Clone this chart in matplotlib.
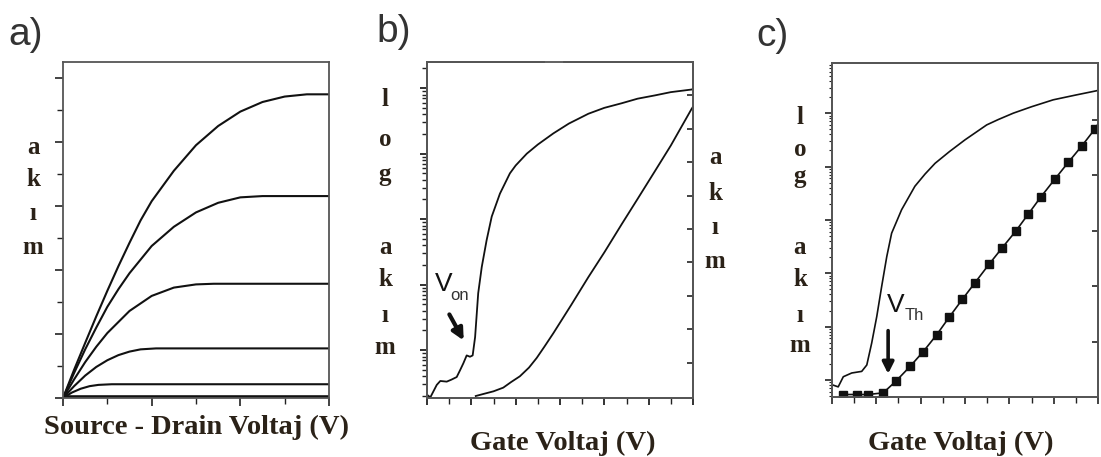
import numpy as np
import matplotlib.pyplot as plt
from matplotlib.ticker import MultipleLocator, FixedLocator, NullFormatter

# ---- a) output curves: drain current vs source-drain voltage (one list per gate voltage)
a_x1 = [0, 0.25, 0.5, 0.75, 1.0, 1.25, 1.5, 1.75, 2.0, 2.5, 3.0, 3.5, 4.0, 4.5, 5.0, 5.5, 6.0]
a_y1 = [0, 0.88, 1.72, 2.55, 3.35, 4.12, 4.85, 5.55, 6.15, 7.1, 7.9, 8.5, 8.95, 9.25, 9.42,
        9.49, 9.49]
a_x2 = [0, 0.25, 0.5, 0.75, 1.0, 1.25, 1.5, 2.0, 2.5, 3.0, 3.5, 4.0, 4.5, 6.0]
a_y2 = [0, 0.78, 1.52, 2.2, 2.85, 3.4, 3.9, 4.75, 5.35, 5.8, 6.1, 6.27, 6.31, 6.31]
a_x3 = [0, 0.25, 0.5, 0.75, 1.0, 1.5, 2.0, 2.5, 3.0, 3.4, 6.0]
a_y3 = [0, 0.58, 1.12, 1.6, 2.03, 2.72, 3.19, 3.45, 3.55, 3.57, 3.57]
a_x4 = [0, 0.25, 0.5, 0.75, 1.0, 1.25, 1.5, 1.75, 2.1, 6.0]
a_y4 = [0, 0.37, 0.7, 0.97, 1.18, 1.34, 1.45, 1.52, 1.55, 1.55]
a_x5 = [0, 0.2, 0.4, 0.6, 0.8, 1.1, 6.0]
a_y5 = [0, 0.17, 0.29, 0.37, 0.41, 0.43, 0.43]
a_x6 = [0, 6.0]
a_y6 = [0.02, 0.02]

# ---- b) transfer curve: log current (exponents) and linear current vs gate voltage
b_x_log = [0, 0.15, 0.44, 0.6, 0.89, 1.1, 1.34, 1.5, 1.64, 1.79, 1.94, 2.06, 2.17, 2.31,
           2.47, 2.69, 2.92, 3.29, 3.74, 4.0, 4.5, 5.0, 5.7, 6.4, 7.28, 8.0, 8.78, 9.5,
           10.28, 11.0, 11.94, 12.0]
b_log_exp = [-10.68, -10.72, -10.53, -10.47, -10.48, -10.45, -10.41, -10.30, -10.20,
             -10.08, -10.10, -10.08, -9.80, -9.13, -8.73, -8.32, -7.96, -7.61, -7.30,
             -7.18, -7.00, -6.86, -6.69, -6.54, -6.39, -6.30, -6.23, -6.16, -6.11, -6.06,
             -6.02, -6.01]
b_x_lin = [2.2, 2.54, 3.0, 3.44, 3.8, 4.19, 4.6, 4.95, 5.3, 5.70, 6.5, 7.28, 8.0, 8.78,
           9.5, 10.28, 11.0, 11.94, 12.0]
b_y_lin = [0.0, 0.06, 0.14, 0.25, 0.42, 0.59, 0.85, 1.14, 1.48, 1.88, 2.72, 3.56, 4.3,
           5.14, 5.9, 6.73, 7.5, 8.60, 8.66]

# ---- c) transfer curve with sqrt(current) points for threshold extraction
c_x_log = [0, 0.28, 0.51, 0.89, 1.34, 1.57, 1.79, 2.02, 2.24, 2.47, 2.69, 3.14, 3.74,
           4.2, 4.65, 5.3, 6.0, 6.98, 7.5, 8.18, 9.0, 9.98, 11.0, 11.94, 12.0]
c_log_exp = [-10.09, -10.13, -9.94, -9.87, -9.84, -9.72, -9.31, -8.81, -8.25, -7.69,
             -7.25, -6.81, -6.37, -6.14, -5.94, -5.72, -5.50, -5.22, -5.12, -5.00, -4.88,
             -4.75, -4.66, -4.58, -4.57]
c_x_sq = [0.51, 1.11, 1.64, 2.31, 2.87, 3.52, 4.12, 4.72, 5.29, 5.88, 6.45, 7.08, 7.68,
          8.29, 8.86, 9.43, 10.06, 10.66, 11.26, 11.86, 12.0]
c_y_sq = [0.045, 0.045, 0.045, 0.075, 0.28, 0.55, 0.82, 1.12, 1.44, 1.76, 2.06, 2.39,
          2.69, 2.99, 3.30, 3.61, 3.93, 4.23, 4.52, 4.83, 4.92]

txt_col = '#2b2218'
spine_col = '#555555'
serif = ['Liberation Serif', 'DejaVu Serif']
sans = ['Liberation Sans', 'DejaVu Sans']

fig = plt.figure(figsize=(11.01, 4.57), dpi=100)


def style(ax):
    for s in ax.spines.values():
        s.set_color(spine_col)
        s.set_linewidth(1.3)
    ax.tick_params(which='both', colors='#222222', labelleft=False, labelbottom=False,
                   labelright=False)


def log_ticks(ax, lo, hi):
    # decade ticks plus 2..9 minor ticks
    major = [10.0 ** k for k in range(lo, hi + 1)]
    minor = [s * 10.0 ** k for k in range(lo - 1, hi + 1) for s in range(2, 10)]
    ax.yaxis.set_major_locator(FixedLocator(major))
    ax.yaxis.set_minor_locator(FixedLocator(minor))
    ax.yaxis.set_minor_formatter(NullFormatter())


def vletters(x_px, ys_px, letters, size=18):
    for y, l in zip(ys_px, letters):
        fig.text(x_px / 1101, 1 - y / 457, l, ha='center', va='center', fontsize=size,
                 fontweight='bold', family=serif, color=txt_col)


# ---------------- panel a
axa = fig.add_axes([63 / 1101, 1 - 398 / 457, 266 / 1101, 336 / 457])
style(axa)
for xs, ys in [(a_x1, a_y1), (a_x2, a_y2), (a_x3, a_y3), (a_x4, a_y4), (a_x5, a_y5)]:
    axa.plot(xs, ys, color='#111111', lw=1.5)
axa.plot(a_x6, a_y6, color='#111111', lw=2.6)
axa.set_xlim(0, 6)
axa.set_ylim(0, 10.5)
axa.xaxis.set_major_locator(MultipleLocator(2))
axa.xaxis.set_minor_locator(MultipleLocator(1))
axa.yaxis.set_major_locator(MultipleLocator(2))
axa.yaxis.set_minor_locator(MultipleLocator(1))
axa.tick_params(which='major', direction='out', length=6, width=1.2)
axa.tick_params(which='minor', direction='out', length=4, width=1.0)

# ---------------- panel b
axb = fig.add_axes([427 / 1101, 1 - 398 / 457, 266 / 1101, 336 / 457])
style(axb)
axb.set_yscale('log')
axb.plot(b_x_log, [10 ** e for e in b_log_exp], color='#111111', lw=1.3)
axb.set_xlim(0, 12)
axb.set_ylim(10 ** -10.73, 10 ** -5.6)
axb.xaxis.set_major_locator(MultipleLocator(2))
axb.xaxis.set_minor_locator(MultipleLocator(1))
log_ticks(axb, -11, -5)
axb.tick_params(which='major', direction='out', length=5, width=1.3)
axb.tick_params(axis='y', which='minor', direction='out', length=3.5, width=1.0)
axb.tick_params(axis='x', which='minor', direction='out', length=4, width=1.0)
axb2 = axb.twinx()
style(axb2)
axb2.plot(b_x_lin, b_y_lin, color='#111111', lw=1.3)
axb2.set_ylim(-0.06, 10.0)
axb2.yaxis.set_major_locator(FixedLocator(range(1, 10)))
axb2.tick_params(axis='y', direction='in', length=4, width=1.2, labelright=False)
# small break in the top frame
axb.plot([0.451, 0.504], [1, 1], transform=axb.transAxes, color='white', lw=3,
         clip_on=False, zorder=10)
axb.annotate('', xy=(0.143, 0.164), xytext=(0.079, 0.256), xycoords='axes fraction',
             arrowprops=dict(arrowstyle='-|>', lw=3, color='#111111', mutation_scale=17))
axb.text(0.028, 0.375, 'V', transform=axb.transAxes, fontsize=19, family=sans,
         ha='left', va='top', color='#111111')
axb.text(0.086, 0.283, 'on', transform=axb.transAxes, fontsize=12, family=sans,
         ha='left', va='bottom', color='#333333')

# ---------------- panel c
axc = fig.add_axes([832 / 1101, 1 - 397 / 457, 266 / 1101, 334 / 457])
style(axc)
axc.set_yscale('log')
axc.plot(c_x_log, [10 ** e for e in c_log_exp], color='#111111', lw=1.2)
axc.set_xlim(0, 12)
axc.set_ylim(10 ** -10.32, 10 ** -4.06)
axc.xaxis.set_major_locator(MultipleLocator(2))
axc.xaxis.set_minor_locator(MultipleLocator(1))
log_ticks(axc, -11, -4)
axc.tick_params(which='major', direction='out', length=5, width=1.2)
axc.tick_params(axis='y', which='minor', direction='out', length=2, width=0.8)
axc.tick_params(axis='x', which='minor', direction='out', length=4, width=1.0)
axc2 = axc.twinx()
style(axc2)
axc2.plot(c_x_sq, c_y_sq, color='#111111', lw=1.2, marker='s', markersize=6,
          markerfacecolor='#111111', markeredgecolor='#111111',
          markevery=list(range(len(c_x_sq) - 1)))
axc2.set_ylim(0, 6.02)
axc2.yaxis.set_major_locator(FixedLocator(range(1, 6)))
axc2.tick_params(axis='y', direction='in', length=4, width=1.2, labelright=False)
axc.annotate('', xy=(0.211, 0.061), xytext=(0.211, 0.207), xycoords='axes fraction',
             arrowprops=dict(arrowstyle='-|>', lw=2.6, color='#111111', mutation_scale=17))
axc.text(0.208, 0.311, 'V', transform=axc.transAxes, fontsize=19, family=sans,
         ha='left', va='top', color='#111111')
axc.text(0.272, 0.222, 'Th', transform=axc.transAxes, fontsize=12, family=sans,
         ha='left', va='bottom', color='#333333')

# ---------------- texts
fig.text(8 / 1101, 1 - 35 / 457, 'a)', fontsize=28, family=sans, color='#333333',
         ha='left', va='center')
fig.text(376 / 1101, 1 - 32 / 457, 'b)', fontsize=28, family=sans, color='#333333',
         ha='left', va='center')
fig.text(756 / 1101, 1 - 36 / 457, 'c)', fontsize=28, family=sans, color='#333333',
         ha='left', va='center')

fig.text(197 / 1101, 1 - 427 / 457, 'Source - Drain Voltaj (V)', fontsize=20.5,
         fontweight='bold', family=serif, color=txt_col, ha='center', va='center')
fig.text(563 / 1101, 1 - 443 / 457, 'Gate Voltaj (V)', fontsize=20.5,
         fontweight='bold', family=serif, color=txt_col, ha='center', va='center')
fig.text(961 / 1101, 1 - 443 / 457, 'Gate Voltaj (V)', fontsize=20.5,
         fontweight='bold', family=serif, color=txt_col, ha='center', va='center')

vletters(33, [147, 180, 213, 248], ['a', 'k', 'ı', 'm'])
vletters(385, [100, 140, 175, 247, 280, 315, 348], ['l', 'o', 'g', 'a', 'k', 'ı', 'm'])
vletters(715, [158, 193, 228, 262], ['a', 'k', 'ı', 'm'])
vletters(800, [118, 150, 177, 247, 280, 315, 345], ['l', 'o', 'g', 'a', 'k', 'ı', 'm'])

fig.savefig('out.png', dpi=100)
